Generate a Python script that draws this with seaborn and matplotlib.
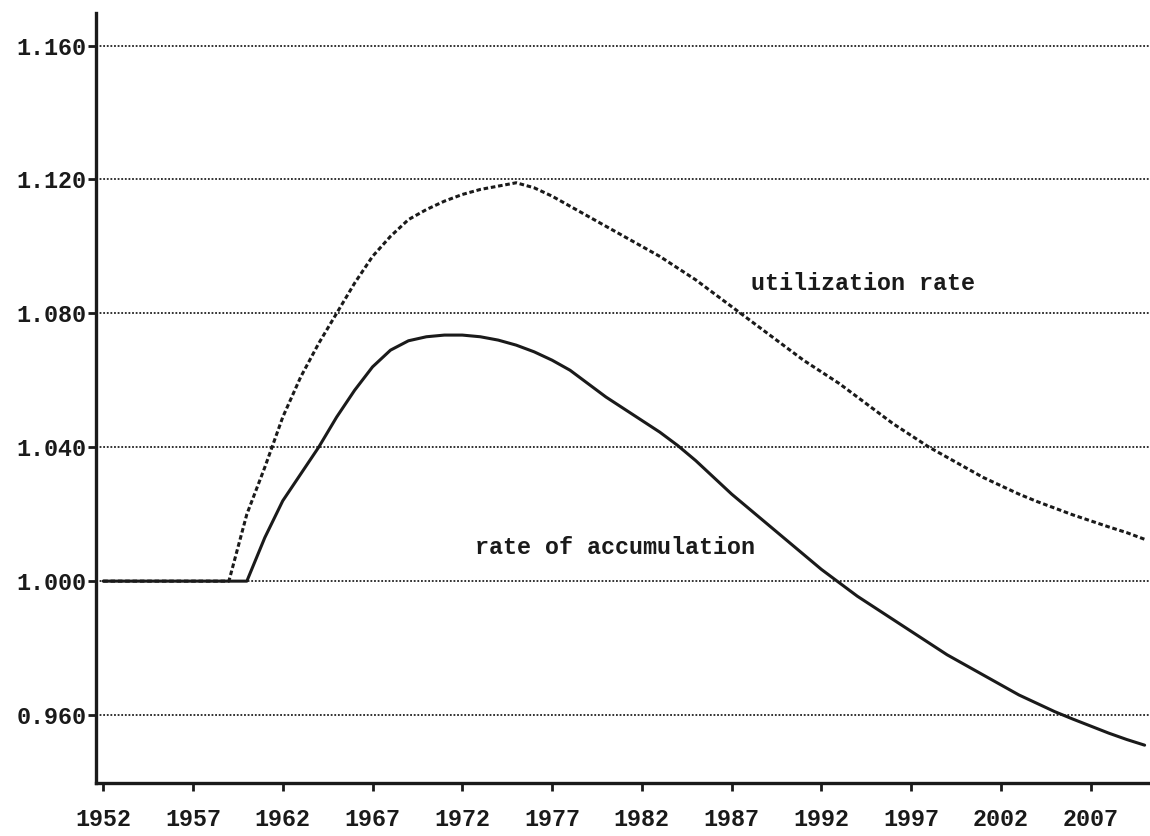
import matplotlib
matplotlib.use("Agg")
import matplotlib.pyplot as plt
import seaborn as sns
import pandas as pd

years = list(range(1952, 2011))

# utilization rate (dashed)
utilization = [1.000, 1.000, 1.000, 1.000, 1.000, 1.000, 1.000, 1.000,
               1.020, 1.034, 1.049, 1.061, 1.071, 1.080, 1.089, 1.097,
               1.103, 1.108, 1.111, 1.1135, 1.1155, 1.117, 1.118, 1.119,
               1.1175, 1.115, 1.112, 1.109, 1.106, 1.103, 1.100, 1.097,
               1.0935, 1.090, 1.086, 1.082, 1.078, 1.074, 1.070, 1.066,
               1.0625, 1.059, 1.055, 1.051, 1.047, 1.0435, 1.040, 1.037,
               1.034, 1.031, 1.0285, 1.026, 1.0238, 1.0218, 1.0198, 1.018,
               1.0162, 1.0145, 1.0125]

# rate of accumulation (solid)
accumulation = [1.000, 1.000, 1.000, 1.000, 1.000, 1.000, 1.000, 1.000,
                1.000, 1.013, 1.024, 1.032, 1.040, 1.049, 1.057, 1.064,
                1.069, 1.0718, 1.0730, 1.0735, 1.0735, 1.0730, 1.0720, 1.0705,
                1.0685, 1.066, 1.063, 1.059, 1.055, 1.0515, 1.048, 1.0445,
                1.0405, 1.036, 1.031, 1.026, 1.0215, 1.017, 1.0125, 1.008,
                1.0035, 0.9995, 0.9955, 0.992, 0.9885, 0.985, 0.9815, 0.978,
                0.975, 0.972, 0.969, 0.966, 0.9635, 0.961, 0.9588, 0.9567,
                0.9546, 0.9527, 0.951]

xticks = [1952, 1957, 1962, 1967, 1972, 1977, 1982, 1987, 1992, 1997, 2002, 2007]
yticks = [0.960, 1.000, 1.040, 1.080, 1.120, 1.160]

df = pd.DataFrame({"year": years, "utilization": utilization,
                   "accumulation": accumulation})

sns.set_style("white")
plt.rcParams['font.family'] = ['Liberation Mono', 'DejaVu Sans Mono']
plt.rcParams['font.weight'] = 'bold'

fig = plt.figure(figsize=(11.5, 8.36), dpi=100)
ax = fig.add_axes([0.0835, 0.0634, 0.9165, 0.9206])

ink = "#1a1a1a"
sns.lineplot(data=df, x="year", y="utilization", ax=ax, color=ink,
             linewidth=2.2, linestyle=(0, (1.5, 0.9)))
sns.lineplot(data=df, x="year", y="accumulation", ax=ax, color=ink,
             linewidth=2.2)

ax.set_xlim(1951.6, 2010.3)
ax.set_ylim(0.9397, 1.1696)
ax.set_xticks(xticks)
ax.set_yticks(yticks)
ax.set_yticklabels(["%.3f" % v for v in yticks])
ax.set_xlabel("")
ax.set_ylabel("")

# dotted horizontal grid
ax.yaxis.grid(True, color="#222222", linestyle=(0, (1, 1)), linewidth=1.3)
ax.xaxis.grid(False)

for s in ["top", "right"]:
    ax.spines[s].set_visible(False)
for s in ["left", "bottom"]:
    ax.spines[s].set_color(ink)
    ax.spines[s].set_linewidth(2.4)

ax.tick_params(axis="both", colors=ink, labelsize=16.8, direction="out",
               length=6, width=2, bottom=True, left=True)
ax.tick_params(axis="x", pad=12)
ax.tick_params(axis="y", pad=1)

ax.text(1994.3, 1.089, "utilization rate", ha="center", va="center",
        fontsize=16.8, fontweight="bold", color=ink)
ax.text(1980.5, 1.0099, "rate of accumulation", ha="center", va="center",
        fontsize=16.8, fontweight="bold", color=ink)

fig.savefig("out.png", dpi=100, facecolor="white")
